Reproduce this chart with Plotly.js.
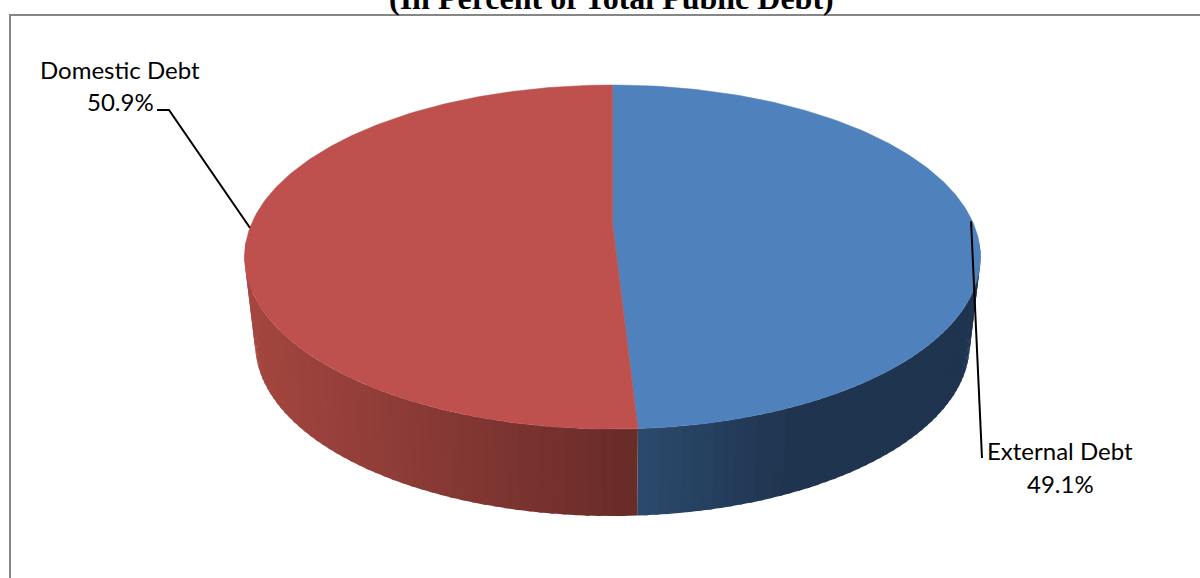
<!DOCTYPE html>
<html>
<head>
<meta charset="utf-8">
<script src="https://cdn.plot.ly/plotly-3.0.1.min.js"></script>
<style>html,body{margin:0;padding:0;background:#fff;overflow:hidden}</style>
</head>
<body>
<div id="chart" style="width:1200px;height:578px"></div>
<script>
// Composition of public debt, clockwise from twelve o'clock
const sliceLabels = ['External Debt', 'Domestic Debt'];
const sliceValues = [49.1, 50.9];
const sliceColors = ['#4F81BD', '#BE504E'];
const chartTitle = '(In Percent of Total Public Debt)';

// Disc projection: a tilted circle seen in perspective, plus the extruded rim
const DISC = {cx: 612.5, cy: 223, halfWidth: 360.7, halfDepth: 165.3, persp: 0.1977, rimDrop: 87, rimShrink: 0.971};
const DEG = Math.PI / 180;

function project(angleDeg, level) {
  const X = Math.sin(angleDeg * DEG), Y = Math.cos(angleDeg * DEG);
  const w = 1 + DISC.persp * Y;
  const sx = level ? DISC.rimShrink : 1;
  return [DISC.cx + sx * DISC.halfWidth * X / w, DISC.cy + level * DISC.rimDrop - DISC.halfDepth * Y / w];
}

function sweep(from, to, level, n) {
  const pts = [];
  for (let i = 0; i <= n; i++) pts.push(project(from + (to - from) * i / n, level));
  return pts;
}

function mix(a, b, t) {
  t = Math.max(0, Math.min(1, t));
  return 'rgb(' + a.map((v, i) => Math.round(v + (b[i] - v) * t)).join(',') + ')';
}

// Slice angles follow the values
const total = sliceValues.reduce((a, b) => a + b, 0);
let running = 0;
const spans = sliceValues.map(v => {
  const s = {from: running, to: running + v / total * 360};
  running = s.to;
  return s;
});
const midAngle = s => (s.from + s.to) / 2;

const traces = [];

// Rim shading runs left to right across the visible front of the disc
const rimShade = [
  x => mix([43, 74, 108], [31, 52, 79], (x - 637) / 150),
  x => mix([165, 70, 64], [103, 43, 40], (x - 255) / 382)
];
const visibleFrom = 96, visibleTo = 264;

spans.forEach((s, idx) => {
  const a0 = Math.max(s.from, visibleFrom), a1 = Math.min(s.to, visibleTo);
  const strips = 56;
  for (let i = 0; i < strips; i++) {
    const t0 = a0 + (a1 - a0) * i / strips;
    const t1 = Math.min(a1, a0 + (a1 - a0) * (i + 1.4) / strips);
    const top = sweep(t0, t1, 0, 4);
    const bot = sweep(t1, t0, 1, 4);
    const ring = top.concat(bot);
    ring.push(ring[0]);
    const xm = project((t0 + t1) / 2, 1)[0];
    traces.push({
      type: 'scatter', mode: 'lines', fill: 'toself',
      x: ring.map(p => p[0]), y: ring.map(p => p[1]),
      line: {width: 0}, fillcolor: rimShade[idx](xm),
      hoverinfo: 'skip', showlegend: false
    });
  }
});

// Top face of each slice
spans.forEach((s, idx) => {
  const edge = sweep(s.from, s.to, 0, 180);
  const apex = [DISC.cx, DISC.cy];
  const outline = [apex].concat(edge, [apex]);
  traces.push({
    type: 'scatter', mode: 'lines', fill: 'toself',
    x: outline.map(p => p[0]), y: outline.map(p => p[1]),
    line: {width: 0.5, color: sliceColors[idx]}, fillcolor: sliceColors[idx],
    name: sliceLabels[idx], text: sliceValues[idx].toFixed(1) + '%',
    hoverinfo: 'name+text', showlegend: false
  });
});

// Leader lines start from the middle of each slice's outer edge
const anchorExt = project(midAngle(spans[0]), 0);
const anchorDom = project(midAngle(spans[1]), 0);
const leaderStyle = {color: '#000', width: 2};
const shapes = [
  {type: 'path', xref: 'x', yref: 'y', path: 'M10,578 L10,15 L1200,15', line: {color: '#868686', width: 2}},
  {type: 'path', xref: 'x', yref: 'y', path: `M157,110 L169,110 L${anchorDom[0]},${anchorDom[1]}`, line: leaderStyle},
  {type: 'path', xref: 'x', yref: 'y', path: `M${anchorExt[0]},${anchorExt[1] + 3} L982,458`, line: leaderStyle}
];

const labelFont = {family: 'Lato, sans-serif', size: 24, color: '#000'};
function note(text, x, y, font) {
  return {text, x, y, xref: 'x', yref: 'y', xanchor: 'center', yanchor: 'middle', showarrow: false, font, borderpad: 0};
}
const annotations = [
  Object.assign(note('<b>' + chartTitle + '</b>', 611, 0, {family: '"Liberation Serif", serif', size: 32, color: '#000'}), {yshift: 2}),
  note(sliceLabels[1], 120, 69, labelFont),
  note(sliceValues[1].toFixed(1) + '%', 120, 101, labelFont),
  note(sliceLabels[0], 1060, 450, labelFont),
  note(sliceValues[0].toFixed(1) + '%', 1060, 483, labelFont)
];

const hiddenAxis = {visible: false, fixedrange: true, showgrid: false, zeroline: false};
Plotly.newPlot('chart', traces, {
  width: 1200, height: 578,
  margin: {l: 0, r: 0, t: 0, b: 0},
  paper_bgcolor: '#fff', plot_bgcolor: '#fff',
  xaxis: Object.assign({range: [0, 1200]}, hiddenAxis),
  yaxis: Object.assign({range: [578, 0]}, hiddenAxis),
  shapes, annotations, showlegend: false
}, {displayModeBar: false});
</script>
</body>
</html>
